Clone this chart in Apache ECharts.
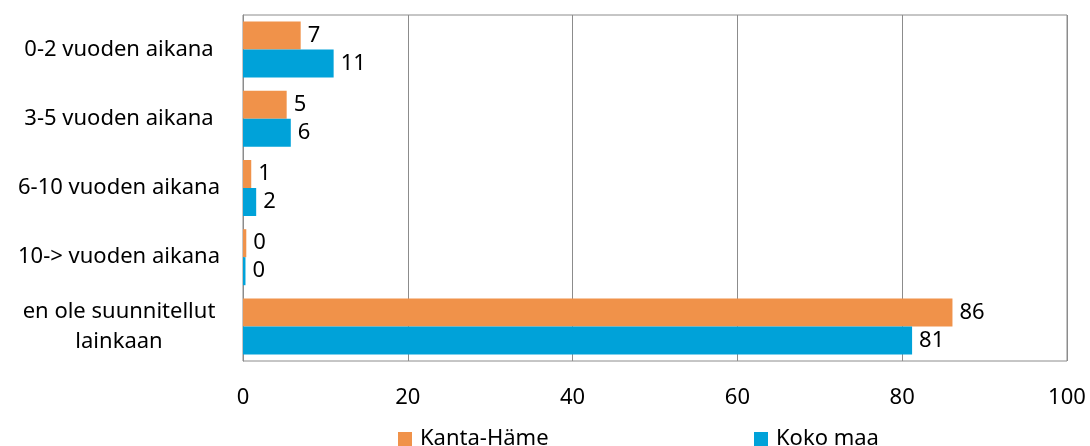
<!DOCTYPE html>
<html>
<head>
<meta charset="utf-8">
<script src="https://cdn.jsdelivr.net/npm/echarts@6/dist/echarts.min.js"></script>
<style>html,body{margin:0;padding:0;background:#fff}#c{width:1090px;height:446px}</style>
</head>
<body>
<div id="c"></div>
<script>
var categories = ['0-2 vuoden aikana', '3-5 vuoden aikana', '6-10 vuoden aikana', '10-> vuoden aikana', 'en ole suunnitellut\nlainkaan'];
var seriesNames = ['Kanta-Häme', 'Koko maa'];
var kantaHame = [7, 5.3, 1, 0.4, 86.1];
var kokoMaa = [11, 5.8, 1.6, 0.3, 81.2];
var xTicks = [0, 20, 40, 60, 80, 100];

var FONT = 'Noto Sans';
var FS = 22;
var chart = echarts.init(document.getElementById('c'), null, {renderer: 'canvas'});
var labelCfg = {
  show: true, position: 'right', distance: 7, color: '#000',
  fontFamily: FONT, fontSize: FS,
  formatter: function (p) { return Math.round(p.value); }
};
function legendCfg(name, left) {
  return {data: [name], left: left, top: 423, itemWidth: 14, itemHeight: 14, itemGap: 0,
    icon: 'rect', textStyle: {fontSize: FS, color: '#000', fontFamily: FONT, padding: [0, 0, 0, 3]}};
}
chart.setOption({
  animation: false,
  textStyle: {fontFamily: FONT},
  grid: {left: 243, top: 15, right: 23, bottom: 85, show: true, borderColor: '#8c8c8c', borderWidth: 1},
  xAxis: {
    type: 'value', min: xTicks[0], max: xTicks[xTicks.length - 1], interval: 20,
    axisLine: {show: false}, axisTick: {show: false},
    splitLine: {show: true, lineStyle: {color: '#8c8c8c', width: 1}},
    axisLabel: {color: '#000', fontSize: FS, fontFamily: FONT, margin: 26,
      formatter: function (v) { return xTicks.indexOf(v) >= 0 ? String(v) : ''; }}
  },
  yAxis: {
    type: 'category', data: categories, inverse: true,
    axisLine: {show: true, lineStyle: {color: '#8c8c8c'}}, axisTick: {show: false},
    axisLabel: {color: '#000', fontSize: FS, fontFamily: FONT, margin: 124, align: 'center', lineHeight: 30}
  },
  legend: [legendCfg(seriesNames[0], 393), legendCfg(seriesNames[1], 749)],
  series: [
    {name: seriesNames[0], type: 'bar', data: kantaHame, barWidth: 28, barGap: '0%',
      itemStyle: {color: '#F0924A'}, label: labelCfg},
    {name: seriesNames[1], type: 'bar', data: kokoMaa, barWidth: 28, barGap: '0%',
      itemStyle: {color: '#00A2D9'}, label: labelCfg}
  ]
});
</script>
</body>
</html>
